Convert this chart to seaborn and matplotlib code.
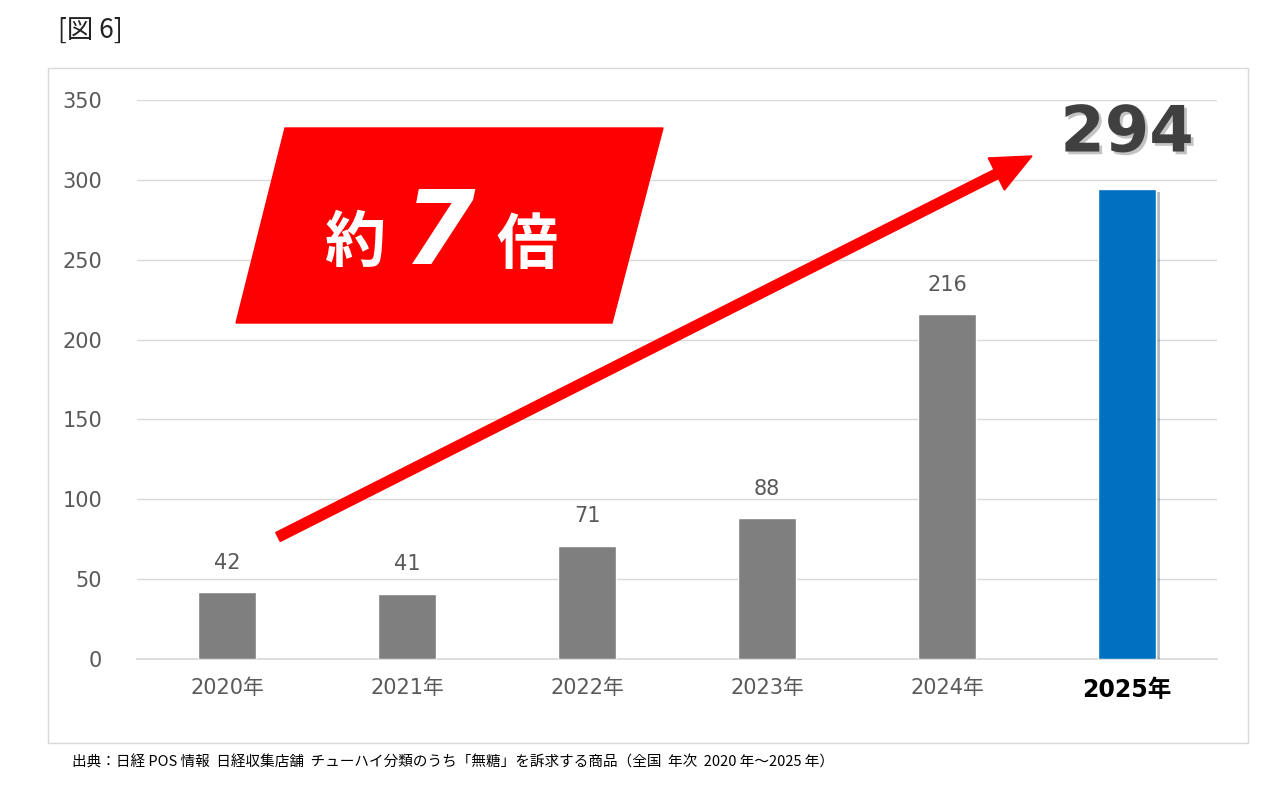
import matplotlib
matplotlib.use("Agg")
import matplotlib.pyplot as plt
import seaborn as sns
import pandas as pd
from matplotlib.patches import Polygon, FancyArrow, Rectangle
import matplotlib.patheffects as pe

sns.set_theme(style="white")
plt.rcParams['font.family'] = ['DejaVu Sans', 'Noto Sans CJK JP']

years = ["2020年", "2021年", "2022年", "2023年", "2024年", "2025年"]
values = [42, 41, 71, 88, 216, 294]
colors = ["#7f7f7f"] * 5 + ["#0070c0"]

fig = plt.figure(figsize=(12.8, 7.86), dpi=100)
W, H = 1280, 786
def fx(x): return x / W
def fy(y): return 1 - y / H
JP = ['Noto Sans CJK JP', 'DejaVu Sans']

fig.patches.append(Rectangle((fx(48), fy(743)), fx(1248) - fx(48), fy(68) - fy(743),
                             transform=fig.transFigure, fill=False, edgecolor="#d9d9d9", lw=1))
fig.text(fx(58), fy(30), "[図 6]", fontsize=19, va="center", ha="left", color="#222222", family=JP)

ax = fig.add_axes([fx(137), fy(659), fx(1217) - fx(137), fy(100) - fy(659)])
df = pd.DataFrame({"year": years, "value": values})
sns.barplot(data=df, x="year", y="value", hue="year", palette=colors, legend=False,
            width=0.32, ax=ax, saturation=1, zorder=3)
ax.set_ylim(0, 350)
ax.set_yticks(range(0, 351, 50))
ax.grid(axis="y", color="#d9d9d9", lw=1, zorder=0)
for s in ["left", "right", "top"]:
    ax.spines[s].set_visible(False)
ax.spines["bottom"].set_color("#d9d9d9")
ax.set_xlabel("")
ax.set_ylabel("")
ax.tick_params(axis="y", labelsize=15, labelcolor="#595959", length=0, pad=25)
ax.tick_params(axis="x", labelsize=15, labelcolor="#595959", length=0, pad=14)
lbls = ax.get_xticklabels()
lbls[-1].set_fontweight("bold"); lbls[-1].set_color("black"); lbls[-1].set_fontsize(17)

p = ax.patches[-1]
p.set_path_effects([pe.SimplePatchShadow(offset=(3, -2), alpha=0.3), pe.Normal()])

for i, v in enumerate(values[:-1]):
    ax.text(i, v + 12, str(v), ha="center", va="bottom", fontsize=15, color="#595959")
ax.text(5, 329, str(values[-1]), ha="center", va="center", fontsize=46, fontweight="bold",
        color="#404040", path_effects=[pe.withSimplePatchShadow(offset=(2, -2), alpha=0.25)])

fig.patches.append(Polygon([(fx(285), fy(128)), (fx(663), fy(128)), (fx(612), fy(323)), (fx(236), fy(323))],
                           closed=True, transform=fig.transFigure, color="#ff0000", zorder=5))
fig.text(fx(355), fy(244), "約", fontsize=44, fontweight="bold", color="white", ha="center", va="center",
         zorder=6, family=JP)
fig.text(fx(440), fy(236), "7", fontsize=74, fontweight="bold", color="white", ha="center", va="center",
         style="italic", zorder=6)
fig.text(fx(527), fy(246), "倍", fontsize=44, fontweight="bold", color="white", ha="center", va="center",
         zorder=6, family=JP)

x0, y0, x1, y1 = fx(278), fy(537), fx(1032), fy(156)
sx, sy = W, H
dx, dy = (x1 - x0) * sx, (y1 - y0) * sy
arr = FancyArrow(x0 * sx, y0 * sy, dx, dy, width=10, head_width=36, head_length=40,
                 length_includes_head=True, color="#ff0000", zorder=4)
arr.set_transform(matplotlib.transforms.Affine2D().scale(1 / sx, 1 / sy) + fig.transFigure)
fig.patches.append(arr)

fig.text(fx(72), fy(762), "出典：日経 POS 情報  日経収集店舗  チューハイ分類のうち「無糖」を訴求する商品（全国  年次  2020 年～2025 年）",
         fontsize=10.5, ha="left", va="center", color="black", family=JP)

fig.savefig("out.png", dpi=100)
